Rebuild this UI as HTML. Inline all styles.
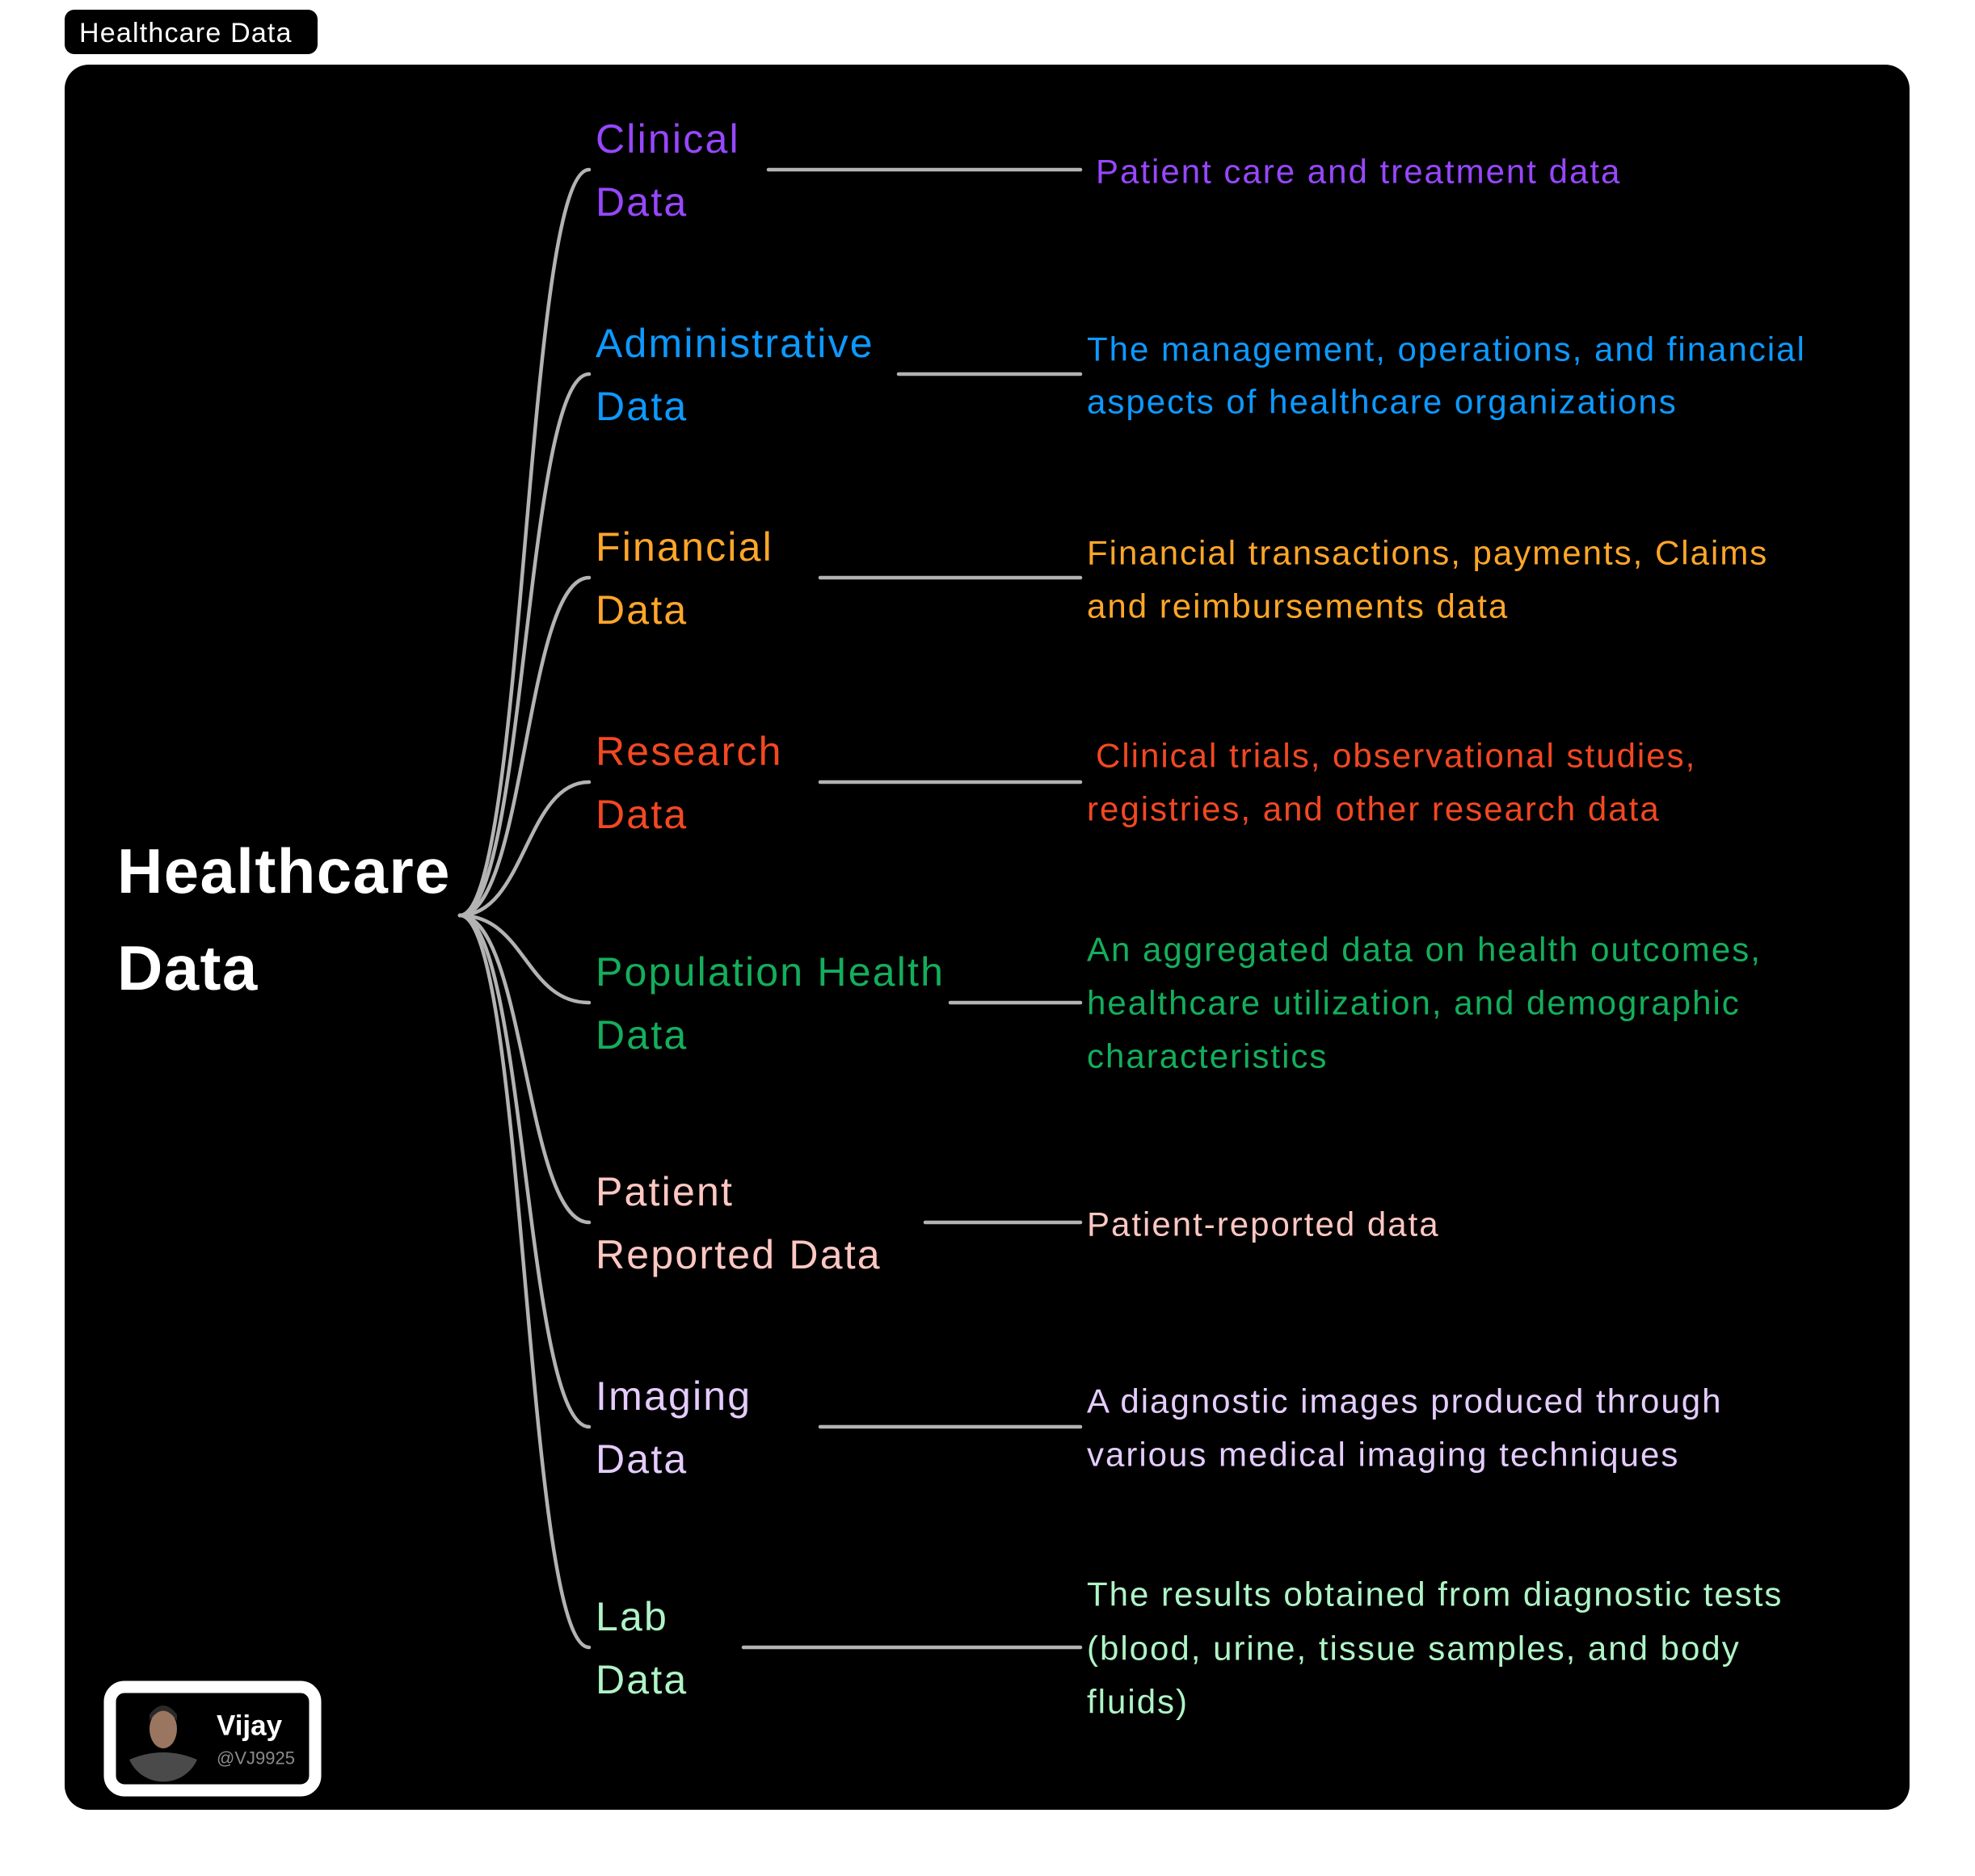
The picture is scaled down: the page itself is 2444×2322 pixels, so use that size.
<!DOCTYPE html>
<html><head><meta charset="utf-8"><style>
html,body{margin:0;padding:0;background:#fff;width:2444px;height:2322px;overflow:hidden}
svg{display:block}
text{font-family:"Liberation Sans",Arial,sans-serif}
</style></head><body>
<svg width="2444" height="2322" viewBox="0 0 2444 2322" xmlns="http://www.w3.org/2000/svg">
<rect x="80" y="12" width="313" height="55" rx="12" fill="#000"/>
<text x="98" y="41" font-size="34" letter-spacing="1.2" fill="#fff" dominant-baseline="central">Healthcare Data</text>
<rect x="80" y="80" width="2283" height="2160" rx="30" fill="#000"/>
<text x="145" y="1078" font-size="78" font-weight="bold" letter-spacing="1.4" fill="#fff" dominant-baseline="central">Healthcare</text>
<text x="145" y="1198" font-size="78" font-weight="bold" letter-spacing="1.4" fill="#fff" dominant-baseline="central">Data</text>
<g fill="none" stroke="#b3b3b3" stroke-width="4.5" stroke-linecap="round">
<path d="M569 1133 C650 1133,650 210,729 210"/>
<path d="M569 1133 C650 1133,650 463,729 463"/>
<path d="M569 1133 C650 1133,650 715,729 715"/>
<path d="M569 1133 C650 1133,650 968,729 968"/>
<path d="M569 1133 C650 1133,650 1241,729 1241"/>
<path d="M569 1133 C650 1133,650 1513,729 1513"/>
<path d="M569 1133 C650 1133,650 1766,729 1766"/>
<path d="M569 1133 C650 1133,650 2039,729 2039"/>
<line x1="951" y1="210" x2="1337" y2="210"/>
<line x1="1112" y1="463" x2="1337" y2="463"/>
<line x1="1015" y1="715" x2="1337" y2="715"/>
<line x1="1015" y1="968" x2="1337" y2="968"/>
<line x1="1176" y1="1241" x2="1337" y2="1241"/>
<line x1="1145" y1="1513" x2="1337" y2="1513"/>
<line x1="1015" y1="1766" x2="1337" y2="1766"/>
<line x1="920" y1="2039" x2="1337" y2="2039"/>
</g>
<g font-size="50" letter-spacing="2.2" dominant-baseline="central">
<text x="737" y="172" fill="#9747ff">Clinical</text><text x="737" y="250" fill="#9747ff">Data</text>
<text x="737" y="425" fill="#0d99ff">Administrative</text><text x="737" y="503" fill="#0d99ff">Data</text>
<text x="737" y="677" fill="#ffa629">Financial</text><text x="737" y="755" fill="#ffa629">Data</text>
<text x="737" y="930" fill="#f24822">Research</text><text x="737" y="1008" fill="#f24822">Data</text>
<text x="737" y="1203" fill="#14ae5c">Population Health</text><text x="737" y="1281" fill="#14ae5c">Data</text>
<text x="737" y="1475" fill="#ffc7c2">Patient</text><text x="737" y="1553" fill="#ffc7c2">Reported Data</text>
<text x="737" y="1728" fill="#e4ccff">Imaging</text><text x="737" y="1806" fill="#e4ccff">Data</text>
<text x="737" y="2001" fill="#aff4c6">Lab</text><text x="737" y="2079" fill="#aff4c6">Data</text>
</g>
<g font-size="42" letter-spacing="2" dominant-baseline="central">
<text x="1356" y="212" fill="#9747ff">Patient care and treatment data</text>
<text x="1345" y="432" fill="#0d99ff">The management, operations, and financial</text>
<text x="1345" y="497" fill="#0d99ff">aspects of healthcare organizations</text>
<text x="1345" y="684" fill="#ffa629">Financial transactions, payments, Claims</text>
<text x="1345" y="750" fill="#ffa629">and reimbursements data</text>
<text x="1356" y="935" fill="#f24822">Clinical trials, observational studies,</text>
<text x="1345" y="1001" fill="#f24822">registries, and other research data</text>
<text x="1345" y="1175" fill="#14ae5c">An aggregated data on health outcomes,</text>
<text x="1345" y="1241" fill="#14ae5c">healthcare utilization, and demographic</text>
<text x="1345" y="1307" fill="#14ae5c">characteristics</text>
<text x="1345" y="1515" fill="#ffc7c2">Patient-reported data</text>
<text x="1345" y="1734" fill="#e4ccff">A diagnostic images produced through</text>
<text x="1345" y="1800" fill="#e4ccff">various medical imaging techniques</text>
<text x="1345" y="1973" fill="#aff4c6">The results obtained from diagnostic tests</text>
<text x="1345" y="2040" fill="#aff4c6">(blood, urine, tissue samples, and body</text>
<text x="1345" y="2106" fill="#aff4c6">fluids)</text>
</g>
<rect x="136" y="2088" width="254" height="128" rx="18" fill="#000" stroke="#fff" stroke-width="15"/>
<circle cx="202" cy="2152" r="46" fill="#000"/>
<path d="M160 2178 Q202 2160 244 2178 A46 46 0 0 1 160 2178Z" fill="#4a4a4a"/>
<ellipse cx="202" cy="2140" rx="17" ry="24" fill="#9a7560"/>
<path d="M185 2130 Q202 2105 219 2130 L219 2122 Q202 2100 185 2122Z" fill="#2a2a2a"/>
<text x="268" y="2136" font-size="35" font-weight="bold" fill="#fff" dominant-baseline="central">Vijay</text>
<text x="268" y="2176" font-size="22" fill="#8a8a8a" dominant-baseline="central">@VJ9925</text>
</svg>
</body></html>
